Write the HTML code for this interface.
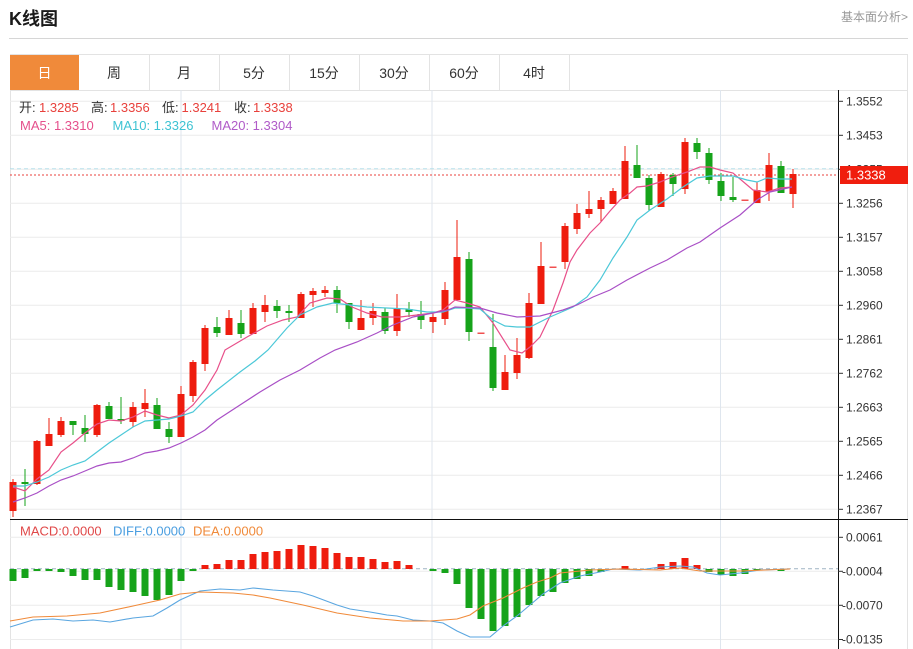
<!DOCTYPE html>
<html><head><meta charset="utf-8"><style>
html,body{margin:0;padding:0;background:#fff;width:913px;height:649px;overflow:hidden}
svg{display:block;font-family:"Liberation Sans","Noto Sans CJK SC",sans-serif}
</style></head><body>
<svg width="913" height="649" viewBox="0 0 913 649" xmlns="http://www.w3.org/2000/svg">
<!-- header -->
<text x="9" y="25" font-size="18" font-weight="bold" fill="#1a1a1a">K线图</text>
<text x="908" y="21" font-size="12" fill="#999" text-anchor="end">基本面分析&gt;</text>
<line x1="9" y1="38.5" x2="908" y2="38.5" stroke="#d6d6d6"/>
<!-- tabs -->
<rect x="10.5" y="54.5" width="897" height="36" fill="#fff" stroke="#e3e3e3"/>
<rect x="10" y="55" width="69" height="35" fill="#f08a3a"/>
<g stroke="#e3e3e3"><line x1="149.5" y1="55" x2="149.5" y2="90"/><line x1="219.5" y1="55" x2="219.5" y2="90"/><line x1="289.5" y1="55" x2="289.5" y2="90"/><line x1="359.5" y1="55" x2="359.5" y2="90"/><line x1="429.5" y1="55" x2="429.5" y2="90"/><line x1="499.5" y1="55" x2="499.5" y2="90"/><line x1="569.5" y1="55" x2="569.5" y2="90"/></g>
<g font-size="14" text-anchor="middle" fill="#333">
<text x="44.5" y="78" fill="#fff">日</text><text x="114" y="78">周</text><text x="184" y="78">月</text><text x="254" y="78">5分</text><text x="324" y="78">15分</text><text x="394" y="78">30分</text><text x="464" y="78">60分</text><text x="534" y="78">4时</text>
</g>
<!-- chart frame -->
<line x1="10.5" y1="90" x2="10.5" y2="649" stroke="#e3e3e3"/>
<line x1="907.5" y1="90" x2="907.5" y2="649" stroke="#e3e3e3"/>
<!-- horizontal grid -->
<g stroke="#ececec">
<line x1="10" y1="101.3" x2="838" y2="101.3"/><line x1="10" y1="135.3" x2="838" y2="135.3"/><line x1="10" y1="169.3" x2="838" y2="169.3"/><line x1="10" y1="203.3" x2="838" y2="203.3"/><line x1="10" y1="237.3" x2="838" y2="237.3"/><line x1="10" y1="271.3" x2="838" y2="271.3"/><line x1="10" y1="305.3" x2="838" y2="305.3"/><line x1="10" y1="339.3" x2="838" y2="339.3"/><line x1="10" y1="373.3" x2="838" y2="373.3"/><line x1="10" y1="407.3" x2="838" y2="407.3"/><line x1="10" y1="441.3" x2="838" y2="441.3"/><line x1="10" y1="475.3" x2="838" y2="475.3"/><line x1="10" y1="509.3" x2="838" y2="509.3"/>
<line x1="10" y1="537.3" x2="838" y2="537.3"/><line x1="10" y1="571.3" x2="838" y2="571.3"/><line x1="10" y1="605.3" x2="838" y2="605.3"/><line x1="10" y1="639.5" x2="838" y2="639.5"/>
</g>
<g stroke="#dfe6ee"><line x1="181" y1="90" x2="181" y2="649"/><line x1="432" y1="90" x2="432" y2="649"/><line x1="720.5" y1="90" x2="720.5" y2="649"/></g>
<!-- legend -->
<g font-size="13">
<text x="19" y="112" fill="#333">开:</text><text x="39" y="112" fill="#e8413c">1.3285</text>
<text x="91" y="112" fill="#333">高:</text><text x="110" y="112" fill="#e8413c">1.3356</text>
<text x="162" y="112" fill="#333">低:</text><text x="181.5" y="112" fill="#e8413c">1.3241</text>
<text x="234" y="112" fill="#333">收:</text><text x="253" y="112" fill="#e8413c">1.3338</text>
<text x="20" y="130" fill="#e5508c">MA5: 1.3310</text>
<text x="112.5" y="130" fill="#3ec3d3">MA10: 1.3326</text>
<text x="211.5" y="130" fill="#b05bc8">MA20: 1.3304</text>
<text x="20" y="535.5" fill="#e04848">MACD:0.0000</text>
<text x="113" y="535.5" fill="#4a9ee0">DIFF:0.0000</text>
<text x="193" y="535.5" fill="#f08a3a">DEA:0.0000</text>
</g>
<!-- ref lines -->
<line x1="10" y1="168.8" x2="838" y2="168.8" stroke="#a8dbe8" stroke-dasharray="4,3" opacity="0.8"/>
<line x1="10" y1="175" x2="838" y2="175" stroke="#e8413c" stroke-dasharray="2,2"/>
<line x1="10" y1="568.7" x2="838" y2="568.7" stroke="#9fb3c4" stroke-dasharray="4,3"/>
<!-- red candles -->
<g fill="#ee1c0e">
<rect x="12.5" y="479" width="1" height="38"/><rect x="9.5" y="482" width="7" height="29"/>
<rect x="36.5" y="440" width="1" height="45"/><rect x="33.5" y="441" width="7" height="43"/>
<rect x="48.5" y="418" width="1" height="28"/><rect x="45.5" y="434" width="7" height="12"/>
<rect x="60.5" y="417" width="1" height="20"/><rect x="57.5" y="421" width="7" height="14"/>
<rect x="96.5" y="404" width="1" height="33"/><rect x="93.5" y="405" width="7" height="30"/>
<rect x="132.5" y="402" width="1" height="25"/><rect x="129.5" y="407" width="7" height="15"/>
<rect x="144.5" y="389" width="1" height="28"/><rect x="141.5" y="403" width="7" height="6"/>
<rect x="180.5" y="386" width="1" height="51"/><rect x="177.5" y="394" width="7" height="43"/>
<rect x="192.5" y="360" width="1" height="42"/><rect x="189.5" y="362" width="7" height="34"/>
<rect x="204.5" y="325" width="1" height="46"/><rect x="201.5" y="328" width="7" height="36"/>
<rect x="228.5" y="310" width="1" height="25"/><rect x="225.5" y="318" width="7" height="17"/>
<rect x="252.5" y="303" width="1" height="31"/><rect x="249.5" y="308" width="7" height="26"/>
<rect x="264.5" y="295" width="1" height="27"/><rect x="261.5" y="305" width="7" height="7"/>
<rect x="300.5" y="292" width="1" height="26"/><rect x="297.5" y="294" width="7" height="24"/>
<rect x="312.5" y="288" width="1" height="19"/><rect x="309.5" y="291" width="7" height="4"/>
<rect x="324.5" y="286" width="1" height="11"/><rect x="321.5" y="290" width="7" height="3"/>
<rect x="360.5" y="300" width="1" height="30"/><rect x="357.5" y="318" width="7" height="12"/>
<rect x="372.5" y="303" width="1" height="22"/><rect x="369.5" y="311" width="7" height="7"/>
<rect x="396.5" y="294" width="1" height="42"/><rect x="393.5" y="309" width="7" height="22"/>
<rect x="432.5" y="313" width="1" height="20"/><rect x="429.5" y="317" width="7" height="5"/>
<rect x="444.5" y="282" width="1" height="43"/><rect x="441.5" y="290" width="7" height="29"/>
<rect x="456.5" y="220" width="1" height="80"/><rect x="453.5" y="257" width="7" height="43"/>
<rect x="504.5" y="355" width="1" height="35"/><rect x="501.5" y="372" width="7" height="18"/>
<rect x="516.5" y="338" width="1" height="41"/><rect x="513.5" y="355" width="7" height="18"/>
<rect x="528.5" y="293" width="1" height="66"/><rect x="525.5" y="303" width="7" height="55"/>
<rect x="540.5" y="242" width="1" height="62"/><rect x="537.5" y="266" width="7" height="38"/>
<rect x="564.5" y="223" width="1" height="46"/><rect x="561.5" y="226" width="7" height="36"/>
<rect x="576.5" y="204" width="1" height="30"/><rect x="573.5" y="213" width="7" height="16"/>
<rect x="588.5" y="191" width="1" height="27"/><rect x="585.5" y="209" width="7" height="5"/>
<rect x="600.5" y="197" width="1" height="25"/><rect x="597.5" y="200" width="7" height="9"/>
<rect x="612.5" y="188" width="1" height="16"/><rect x="609.5" y="191" width="7" height="13"/>
<rect x="624.5" y="146" width="1" height="53"/><rect x="621.5" y="161" width="7" height="38"/>
<rect x="660.5" y="172" width="1" height="35"/><rect x="657.5" y="174" width="7" height="33"/>
<rect x="684.5" y="138" width="1" height="56"/><rect x="681.5" y="142" width="7" height="47"/>
<rect x="756.5" y="182" width="1" height="21"/><rect x="753.5" y="190" width="7" height="13"/>
<rect x="768.5" y="153" width="1" height="48"/><rect x="765.5" y="165" width="7" height="27"/>
<rect x="792.5" y="169" width="1" height="39"/><rect x="789.5" y="174" width="7" height="20"/>
</g>
<g fill="#f05050">
<rect x="477.5" y="332.5" width="7" height="1.5"/><rect x="549.5" y="266.5" width="7" height="1.5"/><rect x="741.5" y="199.5" width="7" height="1.5"/>
</g>
<!-- green candles -->
<g fill="#16a31a">
<rect x="24.5" y="469" width="1" height="37"/><rect x="21.5" y="482" width="7" height="2"/>
<rect x="72.5" y="421" width="1" height="14"/><rect x="69.5" y="421" width="7" height="4"/>
<rect x="84.5" y="415" width="1" height="27"/><rect x="81.5" y="428" width="7" height="6"/>
<rect x="108.5" y="402" width="1" height="17"/><rect x="105.5" y="406" width="7" height="13"/>
<rect x="120.5" y="397" width="1" height="27"/><rect x="117.5" y="419" width="7" height="2"/>
<rect x="156.5" y="398" width="1" height="31"/><rect x="153.5" y="405" width="7" height="24"/>
<rect x="168.5" y="422" width="1" height="21"/><rect x="165.5" y="429" width="7" height="8"/>
<rect x="216.5" y="317" width="1" height="20"/><rect x="213.5" y="327" width="7" height="6"/>
<rect x="240.5" y="310" width="1" height="28"/><rect x="237.5" y="323" width="7" height="11"/>
<rect x="276.5" y="300" width="1" height="18"/><rect x="273.5" y="306" width="7" height="5"/>
<rect x="288.5" y="305" width="1" height="17"/><rect x="285.5" y="311" width="7" height="2"/>
<rect x="336.5" y="286" width="1" height="27"/><rect x="333.5" y="290" width="7" height="13"/>
<rect x="348.5" y="303" width="1" height="26"/><rect x="345.5" y="303" width="7" height="19"/>
<rect x="384.5" y="308" width="1" height="26"/><rect x="381.5" y="312" width="7" height="19"/>
<rect x="408.5" y="302" width="1" height="15"/><rect x="405.5" y="309" width="7" height="3"/>
<rect x="420.5" y="301" width="1" height="28"/><rect x="417.5" y="314" width="7" height="6"/>
<rect x="468.5" y="252" width="1" height="89"/><rect x="465.5" y="259" width="7" height="73"/>
<rect x="492.5" y="314" width="1" height="77"/><rect x="489.5" y="347" width="7" height="41"/>
<rect x="636.5" y="145" width="1" height="33"/><rect x="633.5" y="165" width="7" height="13"/>
<rect x="648.5" y="175" width="1" height="36"/><rect x="645.5" y="178" width="7" height="27"/>
<rect x="672.5" y="173" width="1" height="23"/><rect x="669.5" y="175" width="7" height="9"/>
<rect x="696.5" y="138" width="1" height="21"/><rect x="693.5" y="143" width="7" height="9"/>
<rect x="708.5" y="148" width="1" height="36"/><rect x="705.5" y="153" width="7" height="27"/>
<rect x="720.5" y="173" width="1" height="28"/><rect x="717.5" y="181" width="7" height="15"/>
<rect x="732.5" y="177" width="1" height="25"/><rect x="729.5" y="197" width="7" height="3"/>
<rect x="780.5" y="161" width="1" height="32"/><rect x="777.5" y="166" width="7" height="27"/>
</g>
<!-- MA lines -->
<g fill="none" stroke-width="1.2">
<polyline stroke="#e8508a" points="13,487 25,491 37,479 49,470 61,452 73,443 85,433 97,424 109,420 121,421 133,417 145,411 157,415 169,418 181,415 193,405 205,390 217,370 225,350 247,337 267,326 283,320 297,317 310,303 327,298 340,299 352,307 367,313 382,317 400,317 417,315 433,313 443,310 455,300 467,303 480,307 493,323 510,350 522,353 530,347 540,337 553,310 563,283 570,262 577,250 590,233 600,223 610,211 620,200 630,193 637,187 647,186 660,182 672,177 687,172 700,167 710,167 720,170 733,173 753,190 767,192 780,188 792,187"/>
<polyline stroke="#4cc8d8" points="13,486 25,486 37,482 49,477 61,470 73,465 85,461 97,452 109,443 121,435 133,427 145,421 157,420 169,419 181,416 193,412 205,400 217,390 240,372 255,361 268,350 287,328 300,315 317,307 333,303 350,305 367,307 387,308 407,309 427,312 443,312 455,308 467,308 480,309 493,320 505,326 517,327 530,327 550,317 573,307 587,297 600,280 613,258 627,237 637,220 650,210 667,199 683,187 697,178 710,176 733,176 747,180 757,182 767,178 780,179 792,179"/>
<polyline stroke="#a94fc6" points="13,502 25,498 37,493 49,486 61,480 73,476 85,471 97,466 109,463 121,462 133,458 145,453 157,451 169,448 181,443 193,437 205,430 217,420 240,405 260,392 280,380 300,370 320,358 335,350 357,342 377,333 393,325 413,317 433,313 448,310 455,307 480,308 497,313 517,317 540,316 563,310 577,305 593,297 610,290 627,280 650,268 667,260 687,248 700,242 720,228 740,215 757,200 770,192 792,187"/>
</g>
<!-- MACD bars -->
<g fill="#16a31a">
<rect x="9.5" y="569" width="7" height="12"/><rect x="21.5" y="569" width="7" height="9"/><rect x="33.5" y="569" width="7" height="2"/><rect x="45.5" y="569" width="7" height="2"/><rect x="57.5" y="569" width="7" height="3"/><rect x="69.5" y="569" width="7" height="7"/><rect x="81.5" y="569" width="7" height="11"/><rect x="93.5" y="569" width="7" height="11"/><rect x="105.5" y="569" width="7" height="18"/><rect x="117.5" y="569" width="7" height="21"/><rect x="129.5" y="569" width="7" height="23"/><rect x="141.5" y="569" width="7" height="27"/><rect x="153.5" y="569" width="7" height="31"/><rect x="165.5" y="569" width="7" height="26"/><rect x="177.5" y="569" width="7" height="12"/><rect x="189.5" y="569" width="7" height="2"/>
<rect x="429.5" y="569" width="7" height="2"/><rect x="441.5" y="569" width="7" height="4"/><rect x="453.5" y="569" width="7" height="15"/><rect x="465.5" y="569" width="7" height="39"/><rect x="477.5" y="569" width="7" height="50"/><rect x="489.5" y="569" width="7" height="62"/><rect x="501.5" y="569" width="7" height="57"/><rect x="513.5" y="569" width="7" height="48"/><rect x="525.5" y="569" width="7" height="36"/><rect x="537.5" y="569" width="7" height="27"/><rect x="549.5" y="569" width="7" height="23"/><rect x="561.5" y="569" width="7" height="14"/><rect x="573.5" y="569" width="7" height="10"/><rect x="585.5" y="569" width="7" height="7"/><rect x="597.5" y="569" width="7" height="3"/>
<rect x="705.5" y="569" width="7" height="3"/><rect x="717.5" y="569" width="7" height="6"/><rect x="729.5" y="569" width="7" height="7"/><rect x="741.5" y="569" width="7" height="5"/><rect x="753.5" y="569" width="7" height="1.5"/><rect x="777.5" y="569" width="7" height="2"/>
</g>
<g fill="#ee1c0e">
<rect x="201.5" y="565" width="7" height="4"/><rect x="213.5" y="564" width="7" height="5"/><rect x="225.5" y="560" width="7" height="9"/><rect x="237.5" y="560" width="7" height="9"/><rect x="249.5" y="554" width="7" height="15"/><rect x="261.5" y="552" width="7" height="17"/><rect x="273.5" y="551" width="7" height="18"/><rect x="285.5" y="549" width="7" height="20"/><rect x="297.5" y="545" width="7" height="24"/><rect x="309.5" y="546" width="7" height="23"/><rect x="321.5" y="548" width="7" height="21"/><rect x="333.5" y="553" width="7" height="16"/><rect x="345.5" y="557" width="7" height="12"/><rect x="357.5" y="557" width="7" height="12"/><rect x="369.5" y="559" width="7" height="10"/><rect x="381.5" y="562" width="7" height="7"/><rect x="393.5" y="561" width="7" height="8"/><rect x="405.5" y="565" width="7" height="4"/>
<rect x="621.5" y="566" width="7" height="3"/><rect x="657.5" y="564" width="7" height="5"/><rect x="669.5" y="562" width="7" height="7"/><rect x="681.5" y="558" width="7" height="11"/><rect x="693.5" y="565" width="7" height="4"/>
</g>
<g fill="none" stroke-width="1.1">
<polyline stroke="#5aa6e0" points="10,627 33,620 53,619 73,621 93,620 110,622 133,618 153,616 167,608 180,600 200,591 220,589 240,590 253,588 273,590 300,592 313,596 337,605 350,609 370,612 387,615 397,616 413,620 430,621 443,623 457,631 470,637 490,637 503,626 517,616 530,605 543,594 560,583 580,576 600,572 613,569 640,570 660,567 680,566 693,567 707,573 720,575 740,573 760,570 790,569"/>
<polyline stroke="#f08a3a" points="10,621 33,617 67,616 100,613 133,606 160,600 180,594 200,592 233,593 253,595 270,598 303,605 337,613 370,618 403,621 430,621 457,619 470,615 483,606 503,598 523,588 537,582 550,578 560,573 590,570 620,569 660,570 680,568 700,571 720,571 740,571 790,569"/>
</g>
<!-- axes -->
<line x1="838.5" y1="90" x2="838.5" y2="649" stroke="#111"/>
<line x1="10" y1="519.5" x2="908" y2="519.5" stroke="#111"/>
<g stroke="#333">
<line x1="838" y1="101.3" x2="843" y2="101.3"/><line x1="838" y1="135.3" x2="843" y2="135.3"/><line x1="838" y1="169.3" x2="843" y2="169.3"/><line x1="838" y1="203.3" x2="843" y2="203.3"/><line x1="838" y1="237.3" x2="843" y2="237.3"/><line x1="838" y1="271.3" x2="843" y2="271.3"/><line x1="838" y1="305.3" x2="843" y2="305.3"/><line x1="838" y1="339.3" x2="843" y2="339.3"/><line x1="838" y1="373.3" x2="843" y2="373.3"/><line x1="838" y1="407.3" x2="843" y2="407.3"/><line x1="838" y1="441.3" x2="843" y2="441.3"/><line x1="838" y1="475.3" x2="843" y2="475.3"/><line x1="838" y1="509.3" x2="843" y2="509.3"/>
<line x1="838" y1="537.3" x2="843" y2="537.3"/><line x1="838" y1="571.3" x2="843" y2="571.3"/><line x1="838" y1="605.3" x2="843" y2="605.3"/><line x1="838" y1="639.5" x2="843" y2="639.5"/>
</g>
<g font-size="12" fill="#333">
<text x="846" y="105.5">1.3552</text><text x="846" y="139.5">1.3453</text><text x="846" y="173.5">1.3355</text><text x="846" y="207.5">1.3256</text><text x="846" y="241.5">1.3157</text><text x="846" y="275.5">1.3058</text><text x="846" y="309.5">1.2960</text><text x="846" y="343.5">1.2861</text><text x="846" y="377.5">1.2762</text><text x="846" y="411.5">1.2663</text><text x="846" y="445.5">1.2565</text><text x="846" y="479.5">1.2466</text><text x="846" y="513.5">1.2367</text>
<text x="846" y="541.5">0.0061</text><text x="842" y="575.5">-0.0004</text><text x="842" y="609.5">-0.0070</text><text x="842" y="643.5">-0.0135</text>
</g>
<rect x="840" y="166" width="68" height="18" fill="#f01e0e"/>
<text x="846" y="179.5" font-size="13" fill="#fff">1.3338</text>
</svg>
</body></html>
